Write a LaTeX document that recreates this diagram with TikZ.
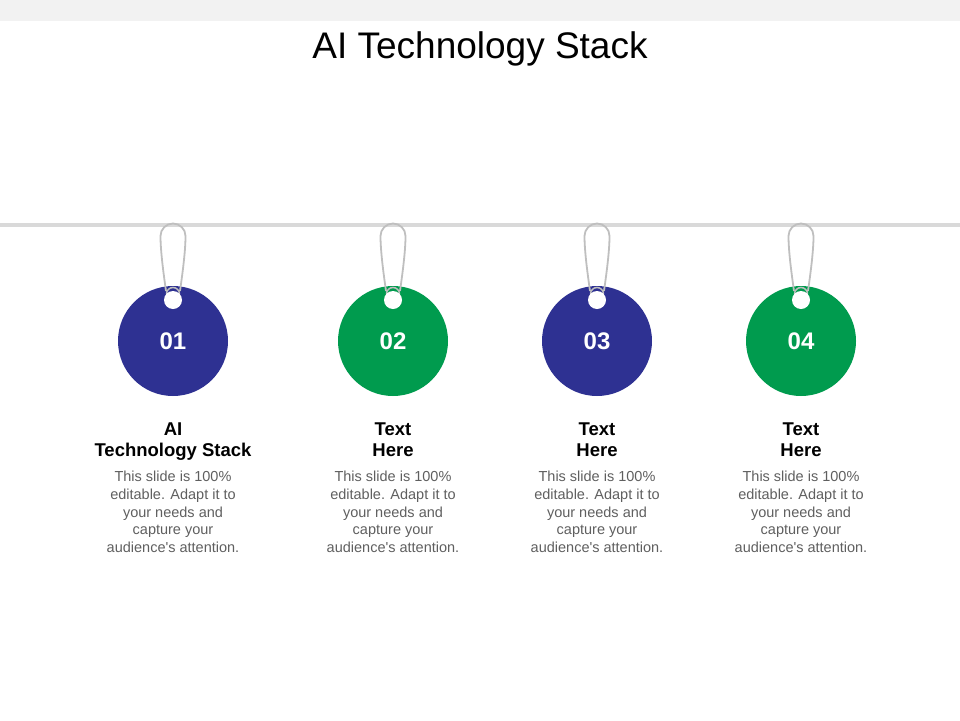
\documentclass[tikz,border=0pt]{standalone}
\usepackage{fontspec}
\setmainfont{Liberation Sans}
\definecolor{tagblue}{HTML}{2E3192}
\definecolor{taggreen}{HTML}{009B4E}
\definecolor{wiregray}{HTML}{BFBFBF}
\definecolor{railgray}{HTML}{D9D9D9}
\definecolor{bandgray}{HTML}{F2F2F2}
\definecolor{bodygray}{HTML}{5F5F5F}
\begin{document}
\begin{tikzpicture}[x=1pt,y=-1pt,
    tag/.style={circle,inner sep=0pt,minimum size=110pt,text=white,
      font=\fontsize{24}{28}\selectfont\bfseries},
    hole/.style={circle,fill=white,inner sep=0pt,minimum size=18pt},
    heading/.style={align=center,inner sep=0pt,anchor=north,
      font=\fontsize{18.5}{21}\selectfont\bfseries},
    blurb/.style={align=center,inner sep=0pt,anchor=north,text=bodygray,
      font=\fontsize{14.5}{17.7}\selectfont}]
            \useasboundingbox (0,0) rectangle (960,720);
            \fill[bandgray] (0,0) rectangle (960,21);
            \node[anchor=base,font=\fontsize{37}{44}\selectfont] (title) at (480,58.5) {AI Technology Stack};

            % rail the tags hang from
            \coordinate (railL) at (0,225);
            \coordinate (railR) at (960,225);
            \draw[railgray,line width=3.5pt] (railL) -- (railR);

            \foreach \x/\c/\tagno/\h in {173/tagblue/01/{AI\\Technology Stack},
                393/taggreen/02/{Text\\Here},597/tagblue/03/{Text\\Here},
                801/taggreen/04/{Text\\Here}}
            {
              \node[tag,fill=\c] (tag\tagno) at (\x,341) {\tagno};
              \draw[wiregray,line width=1.8pt] (\x-7,291) .. controls (\x-10,270) and (\x-12.5,250) .. (\x-12.5,236)
                arc (180:360:12.5) .. controls (\x+12.5,250) and (\x+10,270) .. (\x+7,291);
              \draw[wiregray,line width=1.5pt] (\x-6.5,294) arc (180:360:6.5);
              \node[hole] (hole\tagno) at (\x,300) {};

              \node[heading] (head\tagno) at (\x,423) {\h};
              \node[blurb] (text\tagno) at (\x,471) {This slide is 100\%\\editable. Adapt it to\\your needs and\\capture your\\audience\textquotesingle s attention.};
            }
            \end{tikzpicture}
\end{document}
